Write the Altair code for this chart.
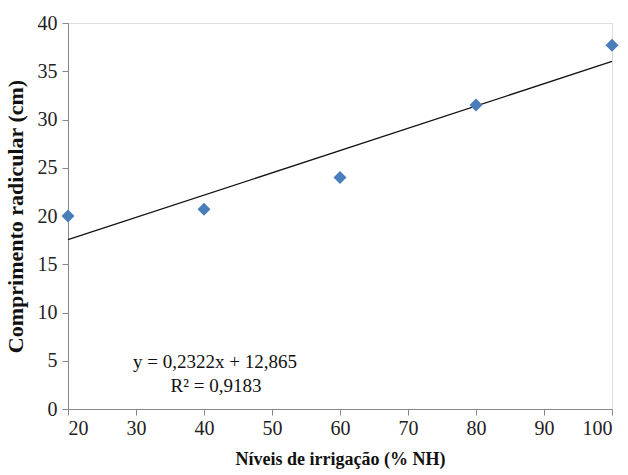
import altair as alt
import pandas as pd

niveis = [20, 40, 60, 80, 100]
comprimento = [20.0, 20.7, 24.0, 31.5, 37.7]
x_ticks = [20, 30, 40, 50, 60, 70, 80, 90, 100]
y_ticks = [0, 5, 10, 15, 20, 25, 30, 35, 40]
equacao = ["y = 0,2322x + 12,865", "R² = 0,9183"]

df = pd.DataFrame({"x": niveis, "y": comprimento})

FONT = "'Liberation Serif', 'Times New Roman', 'DejaVu Serif', serif"

x_enc = alt.X("x:Q", scale=alt.Scale(domain=[20, 100], nice=False),
              axis=alt.Axis(values=x_ticks, title="Níveis de irrigação (% NH)", grid=False,
                            labelFont=FONT, labelFontSize=20, labelColor="#222",
                            titleFont=FONT, titleFontSize=18, titleFontWeight="bold",
                            titleColor="#111", titlePadding=12,
                            domainColor="#888", tickColor="#888", tickSize=6,
                            labelPadding=3))
y_enc = alt.Y("y:Q", scale=alt.Scale(domain=[0, 40], nice=False),
              axis=alt.Axis(values=y_ticks, title="Comprimento radicular (cm)", grid=False,
                            labelFont=FONT, labelFontSize=20, labelColor="#222",
                            titleFont=FONT, titleFontSize=22, titleFontWeight="bold",
                            titleColor="#111", titlePadding=10,
                            domainColor="#888", tickColor="#888", tickSize=6,
                            labelPadding=5))

points = alt.Chart(df).mark_point(shape="diamond", filled=True, size=170,
                                  color="#4A7EBB", opacity=1).encode(x=x_enc, y=y_enc)

trend = alt.Chart(df).transform_regression("x", "y").mark_line(
    color="#111", strokeWidth=1.3).encode(x="x:Q", y="y:Q")

text1 = alt.Chart(pd.DataFrame({"t": [equacao[0]]})).mark_text(
    font=FONT, fontSize=19, color="#111", align="center", baseline="alphabetic").encode(
    text="t:N", x=alt.value(147), y=alt.value(345))
text2 = alt.Chart(pd.DataFrame({"t": [equacao[1]]})).mark_text(
    font=FONT, fontSize=19, color="#111", align="center", baseline="alphabetic").encode(
    text="t:N", x=alt.value(148), y=alt.value(369))

chart = alt.layer(trend, points, text1, text2).properties(
    width=544, height=386,
    autosize=alt.AutoSizeParams(type="none"),
    padding={"left": 68, "top": 23, "right": 16, "bottom": 66},
).configure_view(stroke=None).configure(background="white")

chart.save("out.html", embed_options={"renderer": "svg", "actions": False})
